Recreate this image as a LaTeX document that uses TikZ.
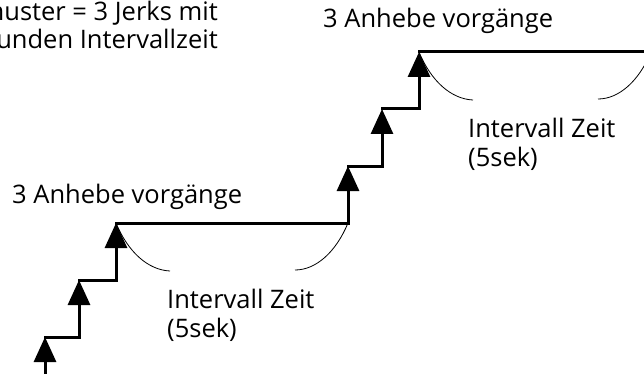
\documentclass[tikz,border=0pt]{standalone}
\usepackage{fontspec}
\setmainfont{Open Sans}
\usetikzlibrary{arrows.meta,positioning}

\begin{document}
\begin{tikzpicture}[
  x=1pt, y=-1pt,
  stair/.style={line width=3pt, line cap=rect},
  lift/.style={stair, -{Triangle[width=22pt,length=25pt]}},
  span/.style={line width=0.8pt},
  label/.style={inner sep=0pt, anchor=base west, align=left,
                font=\fontsize{25.5}{29}\selectfont},
  note/.style={inner sep=0pt, anchor=base east,
               font=\fontsize{25.5}{29}\selectfont},
]
  \useasboundingbox (0,0) rectangle (644,374);
  \clip (0,0) rectangle (644,374);

  % Two flights of three lifts each, second one shifted up and right
  \foreach \ox/\oy/\n in {45/394/1, 348/223/2} {
    \begin{scope}[shift={(\ox,\oy)}]
      \coordinate (s\n0) at (0,0);
      \coordinate (s\n1) at (0,-57);
      \coordinate (s\n2) at (34,-57);
      \coordinate (s\n3) at (34,-114);
      \coordinate (s\n4) at (71,-114);
      \coordinate (s\n5) at (71,-171);
      \coordinate (s\n6) at (303,-171);
      \draw[lift] (s\n0) -- (s\n1);
      \draw[stair] (s\n1) -- (s\n2);
      \draw[lift] (s\n2) -- (s\n3);
      \draw[stair] (s\n3) -- (s\n4);
      \draw[lift] (s\n4) -- (s\n5);
      \draw[stair] (s\n5) -- (s\n6);
      % interval brackets
      \draw[span] (s\n5) .. controls (83,-142) and (103,-124) .. (125,-123);
      \draw[span] (s\n6) .. controls (291,-142) and (271,-124) .. (250,-124);
    \end{scope}
  }

  % Labels (base = last line)
  \node[label] (lift1) at (12,203) {3 Anhebe vorgänge};
  \node[label] (lift2) at (323,28) {3 Anhebe vorgänge};
  \node[label] (pause1) at (167,337) {Intervall Zeit\\(5sek)};
  \node[label] (pause2) at (468,167) {Intervall Zeit\\(5sek)};

  % Pattern note, cut at the left edge
  \node[note] (note1) at (218,21) {muster = 3 Jerks mit};
  \node[note] (note2) at (218,49) {unden Intervallzeit};
\end{tikzpicture}
\end{document}
